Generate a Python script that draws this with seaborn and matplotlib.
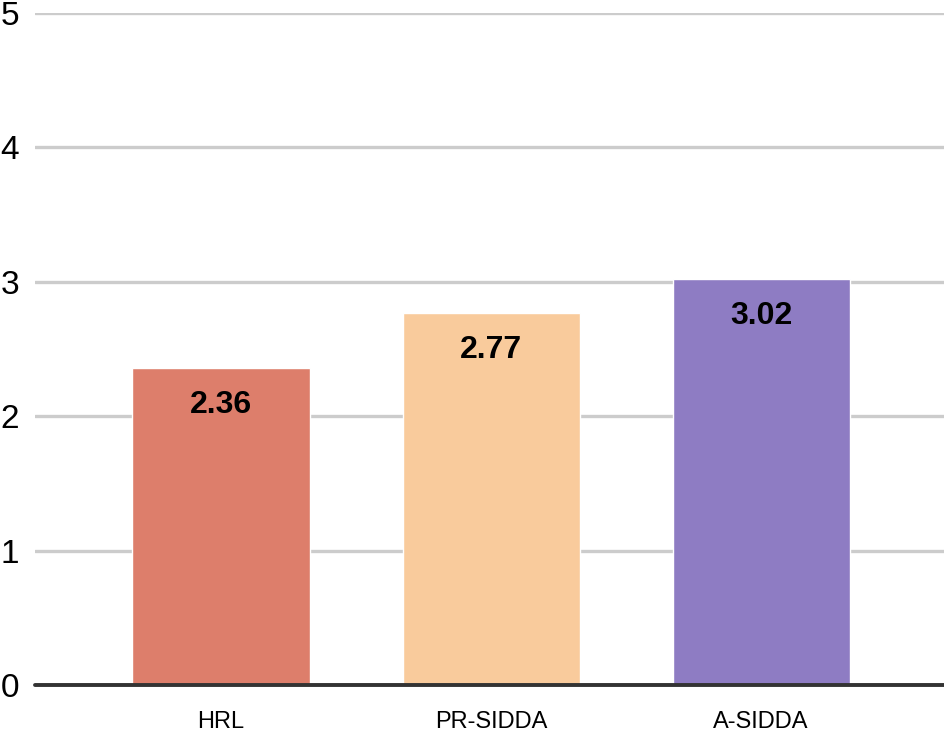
import pandas as pd
import numpy as np
import matplotlib.pyplot as plt
import seaborn as sns

methods = ["HRL", "PR-SIDDA", "A-SIDDA"]  # categories
scores = [2.36, 2.77, 3.02]  # bar values
colors = ["#DD7E6B", "#F9CB9C", "#8E7CC3"]  # bar colours
yticks = [0, 1, 2, 3, 4, 5]

df = pd.DataFrame({"method": methods, "score": scores})

sns.set_style("white")
plt.rcParams['font.family'] = ['Liberation Sans', 'DejaVu Sans']

fig = plt.figure(figsize=(9.45, 7.33), dpi=100)
ax = fig.add_axes([35 / 945, 48 / 733, 910 / 945, 672 / 733])

sns.barplot(data=df, x="method", y="score", hue="method", palette=colors,
            saturation=1, width=0.656, legend=False, ax=ax, zorder=3)

# value labels inside the bars, near the top
for p, v in zip(ax.patches, scores):
    ax.annotate(f"{v:.2f}", (p.get_x() + p.get_width() / 2, v),
                xytext=(0, -16), textcoords="offset points",
                ha="center", va="top", fontsize=23, fontweight="bold", color="black")

ax.set_ylim(0, 5)
ax.set_xlim(-0.689, 2.681)
ax.set_yticks(yticks)
ax.set_yticklabels([str(t) for t in yticks], ha="left")
ax.yaxis.grid(True, color="#CCCCCC", linewidth=2.4, zorder=0)
ax.axhline(0, color="#333333", linewidth=2.8, zorder=4, clip_on=False)
ax.tick_params(axis="y", length=0, pad=25, labelsize=24, labelcolor="black")
ax.tick_params(axis="x", length=0, pad=19, labelsize=17, labelcolor="black")
ax.set_xlabel("")
ax.set_ylabel("")
sns.despine(ax=ax, left=True, bottom=True, top=True, right=True)

plt.savefig("out.png", dpi=100)
